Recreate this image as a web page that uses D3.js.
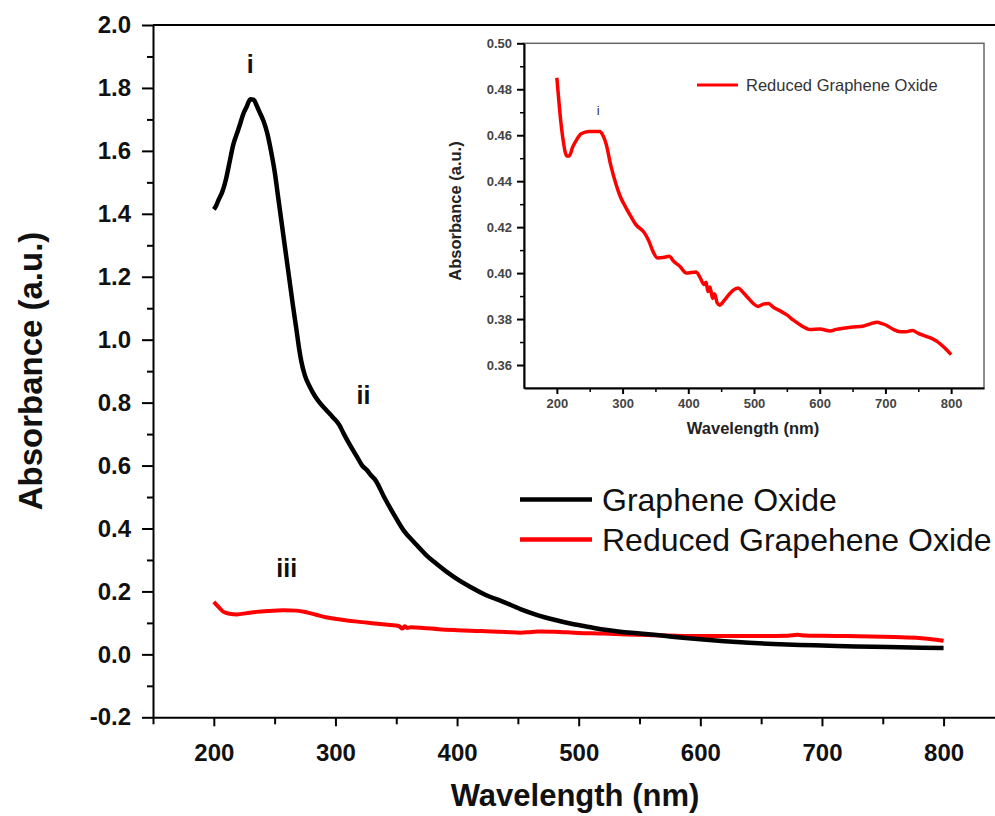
<!DOCTYPE html>
<html>
<head>
<meta charset="utf-8">
<script src="https://cdn.jsdelivr.net/npm/d3@7"></script>
<style>
  body { margin: 0; background: #fff; }
  svg { display: block; font-family: "Liberation Sans", Arial, sans-serif; }
</style>
</head>
<body>
<div id="chart"></div>
<script>
// Datos (UV-Vis)

// Graphene Oxide (curva negra)
const goWavelength = [200, 201, 204, 207, 210, 213, 216, 219, 222, 224, 227, 230, 233, 235, 238, 241, 244, 247, 250, 253, 256, 259, 262, 265, 268, 270, 272, 275, 279, 283, 287, 292, 298, 303, 307, 312, 318, 322, 326, 329, 333, 340, 348, 356, 365, 374, 383, 397, 411, 424, 438, 452, 466, 480, 493, 507, 520, 534, 548, 562, 575, 588, 600, 620, 640, 660, 682, 700, 720, 742, 764, 782, 800];
const goAbsorbance = [1.414, 1.419, 1.445, 1.47, 1.51, 1.565, 1.62, 1.655, 1.69, 1.715, 1.74, 1.764, 1.762, 1.746, 1.72, 1.693, 1.655, 1.6, 1.535, 1.45, 1.365, 1.28, 1.195, 1.11, 1.03, 0.975, 0.93, 0.885, 0.85, 0.822, 0.8, 0.778, 0.753, 0.73, 0.7, 0.665, 0.626, 0.6, 0.585, 0.57, 0.553, 0.5, 0.445, 0.394, 0.355, 0.318, 0.288, 0.247, 0.214, 0.188, 0.167, 0.144, 0.125, 0.11, 0.098, 0.088, 0.079, 0.072, 0.067, 0.062, 0.057, 0.052, 0.048, 0.042, 0.037, 0.033, 0.03, 0.028, 0.026, 0.024, 0.023, 0.021, 0.02];

// Reduced Graphene Oxide (curva roja)
const rgoWavelength = [200, 204, 208, 213, 219, 227, 235, 246, 257, 268, 276, 284, 292, 304, 318, 330, 345, 352, 355, 357, 359, 362, 372, 385, 400, 420, 440, 452, 458, 466, 480, 500, 520, 540, 560, 580, 600, 620, 650, 672, 680, 686, 700, 720, 740, 760, 780, 790, 800];
const rgoAbsorbance = [0.167, 0.15, 0.135, 0.129, 0.127, 0.131, 0.135, 0.138, 0.14, 0.139, 0.134, 0.126, 0.118, 0.111, 0.104, 0.099, 0.093, 0.09, 0.082, 0.089, 0.084, 0.086, 0.084, 0.08, 0.077, 0.074, 0.071, 0.069, 0.07, 0.073, 0.072, 0.068, 0.066, 0.063, 0.061, 0.059, 0.058, 0.058, 0.058, 0.059, 0.062, 0.06, 0.059, 0.058, 0.057, 0.055, 0.052, 0.048, 0.043];

// Inserto: Reduced Graphene Oxide ampliado
const insetWavelength = [200, 203, 206, 210, 215, 219, 224, 230, 237, 249, 258, 265, 270, 275, 282, 290, 297, 305, 312, 320, 333, 340, 346, 353, 362, 371, 378, 387, 397, 412, 418, 424, 427, 430, 433, 437, 440, 444, 448, 453, 460, 468, 476, 482, 490, 498, 506, 514, 522, 530, 540, 550, 560, 570, 585, 600, 616, 625, 636, 650, 667, 678, 687, 695, 702, 712, 723, 731, 741, 750, 763, 771, 779, 790, 800];
const insetAbsorbance = [0.485, 0.475, 0.466, 0.457, 0.451, 0.451, 0.4548, 0.458, 0.4606, 0.4616, 0.4616, 0.4616, 0.46, 0.4562, 0.447, 0.4387, 0.433, 0.4285, 0.425, 0.4212, 0.4176, 0.414, 0.4096, 0.4066, 0.4068, 0.4073, 0.405, 0.403, 0.4, 0.4005, 0.398, 0.395, 0.396, 0.392, 0.394, 0.389, 0.391, 0.387, 0.386, 0.3875, 0.39, 0.3925, 0.3935, 0.392, 0.3895, 0.387, 0.3855, 0.3865, 0.3868, 0.385, 0.3835, 0.3818, 0.3795, 0.3775, 0.3755, 0.3757, 0.3748, 0.3755, 0.376, 0.3765, 0.377, 0.378, 0.3786, 0.378, 0.3772, 0.3755, 0.3745, 0.3745, 0.375, 0.3738, 0.3724, 0.3715, 0.3702, 0.3675, 0.3645];

// Ejes
const mainXTicks = [200, 300, 400, 500, 600, 700, 800];
const mainXMinor = [150, 250, 350, 450, 550, 650, 750];
const mainYTicks = [-0.2, 0.0, 0.2, 0.4, 0.6, 0.8, 1.0, 1.2, 1.4, 1.6, 1.8, 2.0];
const mainYMinor = [-0.1, 0.1, 0.3, 0.5, 0.7, 0.9, 1.1, 1.3, 1.5, 1.7, 1.9];
const insetXTicks = [200, 300, 400, 500, 600, 700, 800];
const insetXMinor = [250, 350, 450, 550, 650, 750];
const insetYTicks = [0.36, 0.38, 0.40, 0.42, 0.44, 0.46, 0.48, 0.50];
const insetYMinor = [0.37, 0.39, 0.41, 0.43, 0.45, 0.47, 0.49];

// Leyendas y anotaciones
const legendLabels = ["Graphene Oxide", "Reduced Grapehene Oxide"];
const insetLegendLabel = "Reduced Graphene Oxide";
const peakLabels = ["i", "ii", "iii"];
const peakWavelength = [230, 323, 260];
const peakAbsorbance = [1.848, 0.796, 0.245];
const insetPeakLabel = "i";
const insetPeakPos = [263, 0.469];

const svg = d3.select("#chart").append("svg")
    .attr("width", 995)
    .attr("height", 816);

drawMain(svg);
drawInset(svg);

function styleAxis(g, size, color, sw) {
  g.attr("font-family", null).attr("font-size", size).attr("font-weight", "bold");
  g.selectAll("line, path").attr("stroke", "#000").attr("stroke-width", sw);
  g.selectAll("text").attr("fill", color);
}

// Gráfico principal
function drawMain(svg) {
  const margin = { top: 25, left: 153 },
        width = 851.4,
        height = 692.3;

  const x = d3.scaleLinear().domain([150, 850]).range([margin.left, margin.left + width]);
  const y = d3.scaleLinear().domain([-0.2, 2.0]).range([margin.top + height, margin.top]);

  // Marco superior y derecho
  svg.append("path")
    .attr("d", `M${x(150)},${y(2.0)}H${x(850)}V${y(-0.2)}`)
    .attr("fill", "none").attr("stroke", "#000").attr("stroke-width", 2);

  // Eje Y
  svg.append("g")
    .attr("transform", `translate(${x(150)},0)`)
    .call(d3.axisLeft(y).tickValues(mainYMinor).tickSize(6).tickFormat("").tickSizeOuter(0))
    .call(g => g.select(".domain").remove())
    .call(g => styleAxis(g, 24, "#111", 2));
  svg.append("g")
    .attr("transform", `translate(${x(150)},0)`)
    .call(d3.axisLeft(y).tickValues(mainYTicks).tickSize(11).tickPadding(11).tickSizeOuter(0)
      .tickFormat(d => d.toFixed(1)))
    .call(g => styleAxis(g, 24, "#111", 2));

  // Eje X
  svg.append("g")
    .attr("transform", `translate(0,${y(-0.2)})`)
    .call(d3.axisBottom(x).tickValues(mainXMinor).tickSize(7).tickFormat("").tickSizeOuter(0))
    .call(g => g.select(".domain").remove())
    .call(g => styleAxis(g, 24, "#111", 2));
  svg.append("g")
    .attr("transform", `translate(0,${y(-0.2)})`)
    .call(d3.axisBottom(x).tickValues(mainXTicks).tickSize(9).tickPadding(18).tickSizeOuter(0))
    .call(g => styleAxis(g, 24, "#111", 2));

  // Títulos de ejes
  svg.append("text")
    .attr("x", 575).attr("y", 806)
    .attr("text-anchor", "middle")
    .style("font-size", "31px").style("font-weight", "bold").style("fill", "#111")
    .text("Wavelength (nm)");
  svg.append("text")
    .attr("transform", "translate(42,371) rotate(-90)")
    .attr("text-anchor", "middle")
    .style("font-size", "33px").style("font-weight", "bold").style("fill", "#111")
    .text("Absorbance (a.u.)");

  const line = d3.line()
    .x(d => x(d[0]))
    .y(d => y(d[1]))
    .curve(d3.curveMonotoneX);

  svg.append("path")
    .datum(d3.zip(rgoWavelength, rgoAbsorbance))
    .attr("d", line)
    .attr("fill", "none").attr("stroke", "#f00").attr("stroke-width", 4)
    .attr("stroke-linejoin", "round");

  svg.append("path")
    .datum(d3.zip(goWavelength, goAbsorbance))
    .attr("d", line)
    .attr("fill", "none").attr("stroke", "#000").attr("stroke-width", 4.5)
    .attr("stroke-linejoin", "round");

  // Etiquetas de picos
  svg.selectAll("text.peak")
    .data(peakLabels)
    .enter().append("text")
      .attr("class", "peak")
      .attr("x", (_, i) => x(peakWavelength[i]))
      .attr("y", (_, i) => y(peakAbsorbance[i]))
      .attr("text-anchor", "middle")
      .style("font-size", "25px").style("font-weight", "bold").style("fill", "#111")
      .text(d => d);

  // Leyenda
  const legend = svg.append("g");
  const colors = ["#000", "#f00"];
  legendLabels.forEach((label, i) => {
    const ly = 499.5 + i * 40;
    legend.append("line")
      .attr("x1", 520).attr("x2", 592)
      .attr("y1", ly).attr("y2", ly)
      .attr("stroke", colors[i]).attr("stroke-width", 4.5);
    legend.append("text")
      .attr("x", 602).attr("y", ly + 11)
      .style("font-size", "32px").style("fill", "#111")
      .text(label);
  });
}

// Inserto
function drawInset(svg) {
  const left = 524, top = 43.3, right = 984, bottom = 388;

  const x = d3.scaleLinear().domain([150, 850]).range([left, right]);
  const y = d3.scaleLinear().domain([0.35, 0.50]).range([bottom, top]);

  svg.append("rect")
    .attr("x", left).attr("y", top)
    .attr("width", right - left).attr("height", bottom - top)
    .attr("fill", "#fff").attr("stroke", "#666").attr("stroke-width", 1.5);

  // Eje Y
  svg.append("g")
    .attr("transform", `translate(${left},0)`)
    .call(d3.axisLeft(y).tickValues(insetYMinor).tickSize(4).tickFormat("").tickSizeOuter(0))
    .call(g => g.select(".domain").remove())
    .call(g => styleAxis(g, 13, "#444", 1.5));
  svg.append("g")
    .attr("transform", `translate(${left},0)`)
    .call(d3.axisLeft(y).tickValues(insetYTicks).tickSize(7).tickPadding(5).tickSizeOuter(0)
      .tickFormat(d3.format(".2f")))
    .call(g => styleAxis(g, 13, "#444", 2));

  // Eje X
  svg.append("g")
    .attr("transform", `translate(0,${bottom})`)
    .call(d3.axisBottom(x).tickValues(insetXMinor).tickSize(4).tickFormat("").tickSizeOuter(0))
    .call(g => g.select(".domain").remove())
    .call(g => styleAxis(g, 13, "#444", 1.5));
  svg.append("g")
    .attr("transform", `translate(0,${bottom})`)
    .call(d3.axisBottom(x).tickValues(insetXTicks).tickSize(6).tickPadding(5).tickSizeOuter(0))
    .call(g => styleAxis(g, 13, "#444", 2));

  svg.append("text")
    .attr("x", 753).attr("y", 434)
    .attr("text-anchor", "middle")
    .style("font-size", "16.5px").style("font-weight", "bold").style("fill", "#222")
    .text("Wavelength (nm)");
  svg.append("text")
    .attr("transform", "translate(461,211) rotate(-90)")
    .attr("text-anchor", "middle")
    .style("font-size", "16.5px").style("font-weight", "bold").style("fill", "#222")
    .text("Absorbance (a.u.)");

  const line = d3.line()
    .x(d => x(d[0]))
    .y(d => y(d[1]))
    .curve(d3.curveMonotoneX);

  svg.append("path")
    .datum(d3.zip(insetWavelength, insetAbsorbance))
    .attr("d", line)
    .attr("fill", "none").attr("stroke", "#f00").attr("stroke-width", 3.5)
    .attr("stroke-linejoin", "round");

  svg.append("text")
    .attr("x", x(insetPeakPos[0])).attr("y", y(insetPeakPos[1]))
    .attr("text-anchor", "middle")
    .style("font-size", "13px").style("fill", "#333")
    .text(insetPeakLabel);

  // Leyenda del inserto
  svg.append("line")
    .attr("x1", 697).attr("x2", 738)
    .attr("y1", 85).attr("y2", 85)
    .attr("stroke", "#f00").attr("stroke-width", 3);
  svg.append("text")
    .attr("x", 746).attr("y", 90.5)
    .style("font-size", "16.5px").style("fill", "#333")
    .text(insetLegendLabel);
}
</script>
</body>
</html>
